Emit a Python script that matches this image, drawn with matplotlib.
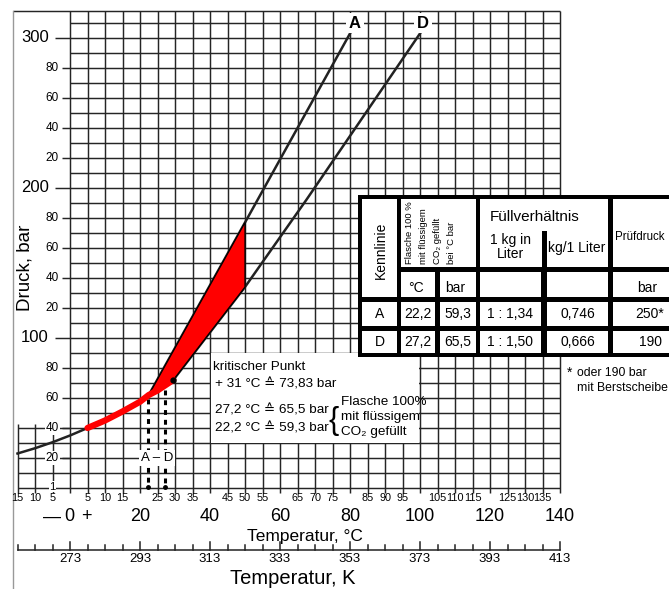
import numpy as np
import matplotlib.pyplot as plt
from matplotlib.patches import Rectangle, Polygon

# --- data (temperature in degC, pressure in bar) ---
sat_black_t = [-15, -10, -5, 0, 5]
sat_black_p = [23, 26.5, 30.5, 35, 40]
sat_red_t = [5, 10, 15, 20, 22.5, 25, 29.5]
sat_red_p = [40, 45, 51, 57.5, 62, 65, 72]
line_a_t = [22.5, 50, 80]
line_a_p = [62, 177, 303]
line_d_t = [29.5, 50, 67.5, 100]
line_d_p = [72, 134, 192, 303]
fill_t = [22.5, 29.5, 50, 50]
fill_p = [62, 72, 134, 177]
crit_t, crit_p = 29.5, 72
fill_a = (22.2, 59.3)
fill_d = (27.2, 65.5)

y_big = [100, 200, 300]
y_small = [20, 40, 60, 80, 120, 140, 160, 180, 220, 240, 260, 280]
x_small = [-15, -10, -5, 5, 10, 15, 25, 30, 35, 45, 50, 55, 65, 70, 75,
           85, 90, 95, 105, 110, 115, 125, 130, 135]
x_big = [20, 40, 60, 80, 100, 120, 140]
kelvin = [273, 293, 313, 333, 353, 373, 393, 413]

tab_rows = [
    ['A', '22,2', '59,3', '1 : 1,34', '0,746', '250*'],
    ['D', '27,2', '65,5', '1 : 1,50', '0,666', '190'],
]

REG = ['Liberation Sans', 'DejaVu Sans']
INK = '#222222'

W, H = 669, 589
X0, XS, Y0, YS = 70, 3.5, 488, 1.5   # pixel = X0 + XS*T , Y0 - YS*P

fig = plt.figure(figsize=(W / 100, H / 100), dpi=100)
ax = fig.add_axes([0, 0, 1, 1])
ax.set_xlim(-X0 / XS, (W - X0) / XS)
ax.set_ylim((Y0 - H) / YS, Y0 / YS)
ax.axis('off')

# grid
gkw = dict(color='#252525', lw=1.05, zorder=1, solid_capstyle='butt')
for t in np.arange(0, 141, 5):
    ax.plot([t, t], [-3, 318], **gkw)
for p in np.arange(0, 311, 10):
    ax.plot([0, 140], [p, p], **gkw)
ax.plot([-16.3, 140], [318, 318], **gkw)
for t in [-15, -10, -5]:
    ax.plot([t, t], [-3, 43], **gkw)
for p in [0, 10, 20, 30, 40]:
    ax.plot([-15, 0], [p, p], **gkw)
ax.plot([-16.3, -16.3], [318, -68], color='#999999', lw=1.0, zorder=1)

# y ticks and labels
for p in y_big:
    ax.plot([-4.3, 0], [p, p], **gkw)
    ax.text(-6, p, str(p), ha='right', va='center', fontsize=12, family=REG)
for p in y_small:
    ax.plot([-2.3, 0], [p, p], **gkw)
    ax.text(-3.2, p, str(p % 100), ha='right', va='center', fontsize=8.5,
            family=REG, zorder=3,
            bbox=dict(fc='white', ec='none', pad=0.5) if p < 50 else None)
ax.text(-5, 0.8, '1', ha='center', va='center', fontsize=8, family=REG,
        zorder=3, bbox=dict(fc='white', ec='none', pad=0.3))
ax.text(-12.9, 147, 'Druck, bar', rotation=90, ha='center', va='center',
        fontsize=13.5, family=REG)

# x labels (degC)
for t in x_small:
    ax.text(t, -6.5, str(abs(t)), ha='center', va='center', fontsize=7.8,
            family=REG)
for t in x_big:
    ax.text(t, -19.3, str(t), ha='center', va='center', fontsize=13,
            family=REG)
ax.text(-5.1, -19.3, '\u2014', ha='center', va='center', fontsize=13, family=REG)
ax.text(-0.3, -19.3, '0', ha='center', va='center', fontsize=13, family=REG)
ax.text(4.6, -19.3, '+', ha='center', va='center', fontsize=13, family=REG)
ax.text(83.7, -32, 'Temperatur, \u00b0C', ha='right', va='center',
        fontsize=12.5, family=REG)

# Kelvin axis
ax.plot([-15, 140], [-41.3, -41.3], color=INK, lw=1.1, zorder=1)
for t in np.arange(-15, 141, 5):
    top = -36 if t % 20 == 0 else -37.8
    ax.plot([t, t], [-41.3, top], color=INK, lw=1.1, zorder=1)
for k in kelvin:
    ax.text(k - 273, -47.3, str(k), ha='center', va='center', fontsize=9.5,
            family=REG)
ax.text(81.7, -60, 'Temperatur, K', ha='right', va='center', fontsize=14.5,
        family=REG)

# curves
ax.plot(sat_black_t, sat_black_p, color=INK, lw=1.8, zorder=4)
ax.plot(line_a_t, line_a_p, color=INK, lw=1.8, zorder=4)
ax.plot(line_d_t, line_d_p, color=INK, lw=1.8, zorder=4)
ax.add_patch(Polygon(list(zip(fill_t, fill_p)), closed=True, fc='#ff0000',
                     ec='black', lw=0.9, zorder=5))
ax.plot(sat_red_t, sat_red_p, color='#ff0000', lw=4.5, zorder=6,
        solid_capstyle='round')
ax.plot(crit_t, crit_p, 'o', color='black', ms=3.5, zorder=7)
for t, p in [fill_a, fill_d]:
    ax.plot([t, t], [p, 0], color='black', lw=2.2, ls=(0, (1.6, 1.6)),
            zorder=4)
    ax.plot(t, 1, 'o', color='black', ms=2.5, zorder=4)
ax.text(24.8, 20, 'A \u2013 D', ha='center', va='center', fontsize=9.5,
        family=REG, zorder=6, bbox=dict(fc='white', ec='none', pad=1.5))
ax.text(81.4, 310, 'A', ha='center', va='center', fontsize=12,
        fontweight='bold', family=REG, zorder=6,
        bbox=dict(fc='white', ec='none', pad=2))
ax.text(100.9, 310, 'D', ha='center', va='center', fontsize=12,
        fontweight='bold', family=REG, zorder=6,
        bbox=dict(fc='white', ec='none', pad=2))

# critical point note
ax.add_patch(Rectangle((40.3, 30.3), 59.4, 59.4, fc='white', ec='none',
                       zorder=2))
nkw = dict(ha='left', va='center', fontsize=9.7, family=REG, zorder=3)
ax.text(40.9, 80.7, 'kritischer Punkt', **nkw)
ax.text(41.3, 69.3, '+ 31 \u00b0C \u2259 73,83 bar', **nkw)
ax.text(41.3, 52, '27,2 \u00b0C \u2259 65,5 bar', **nkw)
ax.text(41.3, 40, '22,2 \u00b0C \u2259 59,3 bar', **nkw)
ax.text(75.2, 45, '{', ha='center', va='center', fontsize=22, family=REG,
        fontweight='light', zorder=3)
ax.text(77.4, 57.3, 'Flasche 100%', **nkw)
ax.text(77.4, 47.3, 'mit fl\u00fcssigem', **nkw)
ax.text(77.4, 37.3, 'CO\u2082 gef\u00fcllt', **nkw)

# table (pixel coordinates)
tb = fig.add_axes([0, 0, 1, 1], zorder=5)
tb.set_xlim(0, W)
tb.set_ylim(H, 0)
tb.axis('off')
tb.add_patch(Rectangle((358, 195), 330, 162, fc='black', ec='none'))
cols = [(362, 397), (401, 435), (440, 476), (480, 541), (547, 608), (613, 690)]


def cell(x0, x1, y0, y1):
    tb.add_patch(Rectangle((x0, y0), x1 - x0, y1 - y0, fc='white', ec='none'))


cell(362, 397, 199, 297)
cell(401, 476, 199, 267)
cell(480, 608, 199, 267)
cell(613, 690, 199, 267)
for c in cols[1:]:
    cell(c[0], c[1], 272, 297)
for y0, y1 in [(302, 326), (331, 353)]:
    for c in cols:
        cell(c[0], c[1], y0, y1)
tb.add_patch(Rectangle((542, 231), 5, 37, fc='black', ec='none'))

tkw = dict(ha='center', va='center', fontsize=10, family=REG)
tb.text(381, 250, 'Kennlinie', rotation=90, **tkw)
for x, s in zip([409, 423, 437, 451],
                ['Flasche 100 %', 'mit fl\u00fcssigem', 'CO\u2082 gef\u00fcllt',
                 'bei \u00b0C bar']):
    tb.text(x, 264, s, rotation=90, ha='center', va='bottom', fontsize=6.8,
            family=REG)
tb.text(535, 217, 'F\u00fcllverh\u00e4ltnis', ha='center', va='center',
        fontsize=11, family=REG)
tb.text(510, 240, '1 kg in', **tkw)
tb.text(510, 254, 'Liter', **tkw)
tb.text(577, 248, 'kg/1 Liter', **tkw)
tb.text(615, 237, 'Pr\u00fcfdruck', ha='left', va='center', fontsize=8.3,
        family=REG)
tb.text(416, 288, '\u00b0C', **tkw)
tb.text(455, 288, 'bar', **tkw)
tb.text(647, 288, 'bar', **tkw)
centers = [380, 418, 458, 510, 578, 650]
for y, row in zip([314, 342], tab_rows):
    for x, s in zip(centers, row):
        tb.text(x, y, s, **tkw)

tb.add_patch(Rectangle((562, 357), 110, 53, fc='white', ec='none'))
tb.text(567, 373, '*', ha='left', va='center', fontsize=10, family=REG)
tb.text(577, 373, 'oder 190 bar', ha='left', va='center', fontsize=8.8,
        family=REG)
tb.text(577, 388, 'mit Berstscheibe', ha='left', va='center', fontsize=8.8,
        family=REG)

fig.savefig('out.png', dpi=100)
